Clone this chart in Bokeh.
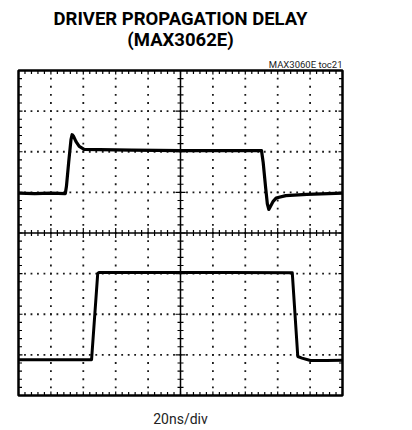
import numpy as np
from bokeh.plotting import figure
from bokeh.models import Range1d, Span, Title, FixedTicker
from bokeh.embed import file_html
from bokeh.resources import INLINE

title_line1 = "DRIVER PROPAGATION DELAY"
title_line2 = "(MAX3062E)"
toc_label = "MAX3060E toc21"
x_label = "20ns/div"

ns_per_div = 20
n_xdiv = 10
n_ydiv = 8

# upper trace (time in ns, level in divisions from screen centre)
ch1_t = [0, 10, 20, 28.9, 29.6, 31.0, 32.4, 33.1, 34.0, 35.5, 37.5, 40.5, 50, 70, 100, 130, 150.0,
         151.0, 152.6, 153.6, 154.5, 155.6, 157.2, 159.0, 165, 178, 200]
ch1_v = [0.98, 0.97, 0.98, 0.97, 1.15, 1.75, 2.3, 2.42, 2.38, 2.25, 2.13, 2.06, 2.05, 2.04, 2.03, 2.03, 2.03,
         1.75, 1.1, 0.72, 0.58, 0.66, 0.78, 0.86, 0.92, 0.95, 0.98]
# lower trace
ch2_t = [0, 20, 40, 45.1, 48.9, 49.6, 60, 80, 100, 130, 169.0, 172.4, 175, 180.2, 190, 200]
ch2_v = [-3.12, -3.12, -3.12, -3.12, -1.0, -0.97, -0.97, -0.97, -0.97, -0.97, -0.98, -3.04, -3.08, -3.14, -3.14, -3.13]

FONT = "Roboto"

xmax = ns_per_div * n_xdiv
ymax = n_ydiv / 2

p = figure(frame_width=324, frame_height=325, output_backend="svg", toolbar_location=None,
           x_range=Range1d(0, xmax), y_range=Range1d(-ymax, ymax),
           min_border_left=18, min_border_right=30, min_border_top=70, min_border_bottom=0)
p.yaxis.visible = False
p.xgrid.visible = False
p.ygrid.visible = False

# bottom axis only carries the time-base label
xa = p.xaxis[0]
xa.ticker = FixedTicker(ticks=[])
xa.axis_line_color = None
xa.major_tick_line_color = None
xa.minor_tick_line_color = None
xa.major_tick_in = 0
xa.major_tick_out = 0
xa.minor_tick_in = 0
xa.minor_tick_out = 0
xa.major_label_text_font_size = "0px"
xa.major_label_standoff = 0
xa.axis_label = x_label
xa.axis_label_text_font = FONT
xa.axis_label_text_font_size = "14px"
xa.axis_label_text_font_style = "normal"
xa.axis_label_text_color = "#222"
xa.axis_label_standoff = 15

p.outline_line_color = "black"
p.outline_line_width = 2.5
p.outline_line_alpha = 1
p.background_fill_color = "white"
p.border_fill_color = "white"

# dotted graticule
step_x = ns_per_div / 5
step_y = 0.2
xs_fine = np.arange(0, xmax + 0.01, step_x)
ys_fine = np.arange(-ymax, ymax + 0.001, step_y)
gx, gy = [], []
for yv in range(-int(ymax) + 1, int(ymax)):
    if yv == 0:
        continue
    gx += list(xs_fine)
    gy += [yv] * len(xs_fine)
for xd in range(1, n_xdiv):
    if xd == n_xdiv // 2:
        continue
    gx += [xd * ns_per_div] * len(ys_fine)
    gy += list(ys_fine)
p.scatter(gx, gy, marker="square", size=1.8, color="#1a1a1a", line_width=0)

# centre cross
p.add_layout(Span(location=xmax / 2, dimension="height", line_color="black", line_width=1.5))
p.add_layout(Span(location=0, dimension="width", line_color="black", line_width=1.5))

minor_x = [x for i, x in enumerate(xs_fine) if i % 5 != 0]
major_x = [x for i, x in enumerate(xs_fine) if i % 5 == 0]
minor_y = [y for i, y in enumerate(ys_fine) if i % 5 != 0]
major_y = [y for i, y in enumerate(ys_fine) if i % 5 == 0]

# ticks on horizontal centre line and top/bottom edges
for yloc, sz_min, sz_maj in [(0, 6, 10), (-ymax, 7, 8), (ymax, 7, 8)]:
    p.scatter(minor_x, [yloc] * len(minor_x), marker="dash", angle=np.pi / 2, size=sz_min,
              line_color="black", line_width=1.2)
    p.scatter(major_x, [yloc] * len(major_x), marker="dash", angle=np.pi / 2, size=sz_maj,
              line_color="black", line_width=1.2)
# ticks on vertical centre line and left/right edges
for xloc, sz_min, sz_maj in [(xmax / 2, 6, 10), (0, 7, 8), (xmax, 7, 8)]:
    p.scatter([xloc] * len(minor_y), minor_y, marker="dash", size=sz_min,
              line_color="black", line_width=1.2)
    p.scatter([xloc] * len(major_y), major_y, marker="dash", size=sz_maj,
              line_color="black", line_width=1.2)

# traces
p.line(ch1_t, ch1_v, line_color="black", line_width=3.2, line_join="round")
p.line(ch2_t, ch2_v, line_color="black", line_width=3.0, line_join="round")

# titles (added innermost first)
p.add_layout(Title(text=toc_label, align="right", text_font=FONT, text_font_size="9.5px",
                   text_font_style="normal", standoff=1, text_color="#222"), "above")
p.add_layout(Title(text=title_line2, align="center", text_font=FONT, text_font_size="18.5px",
                   text_font_style="bold", standoff=11, text_color="black"), "above")
p.add_layout(Title(text=title_line1, align="center", text_font=FONT, text_font_size="18.5px",
                   text_font_style="bold", standoff=-16, text_color="black"), "above")

open("out.html", "w").write(file_html(p, INLINE))
